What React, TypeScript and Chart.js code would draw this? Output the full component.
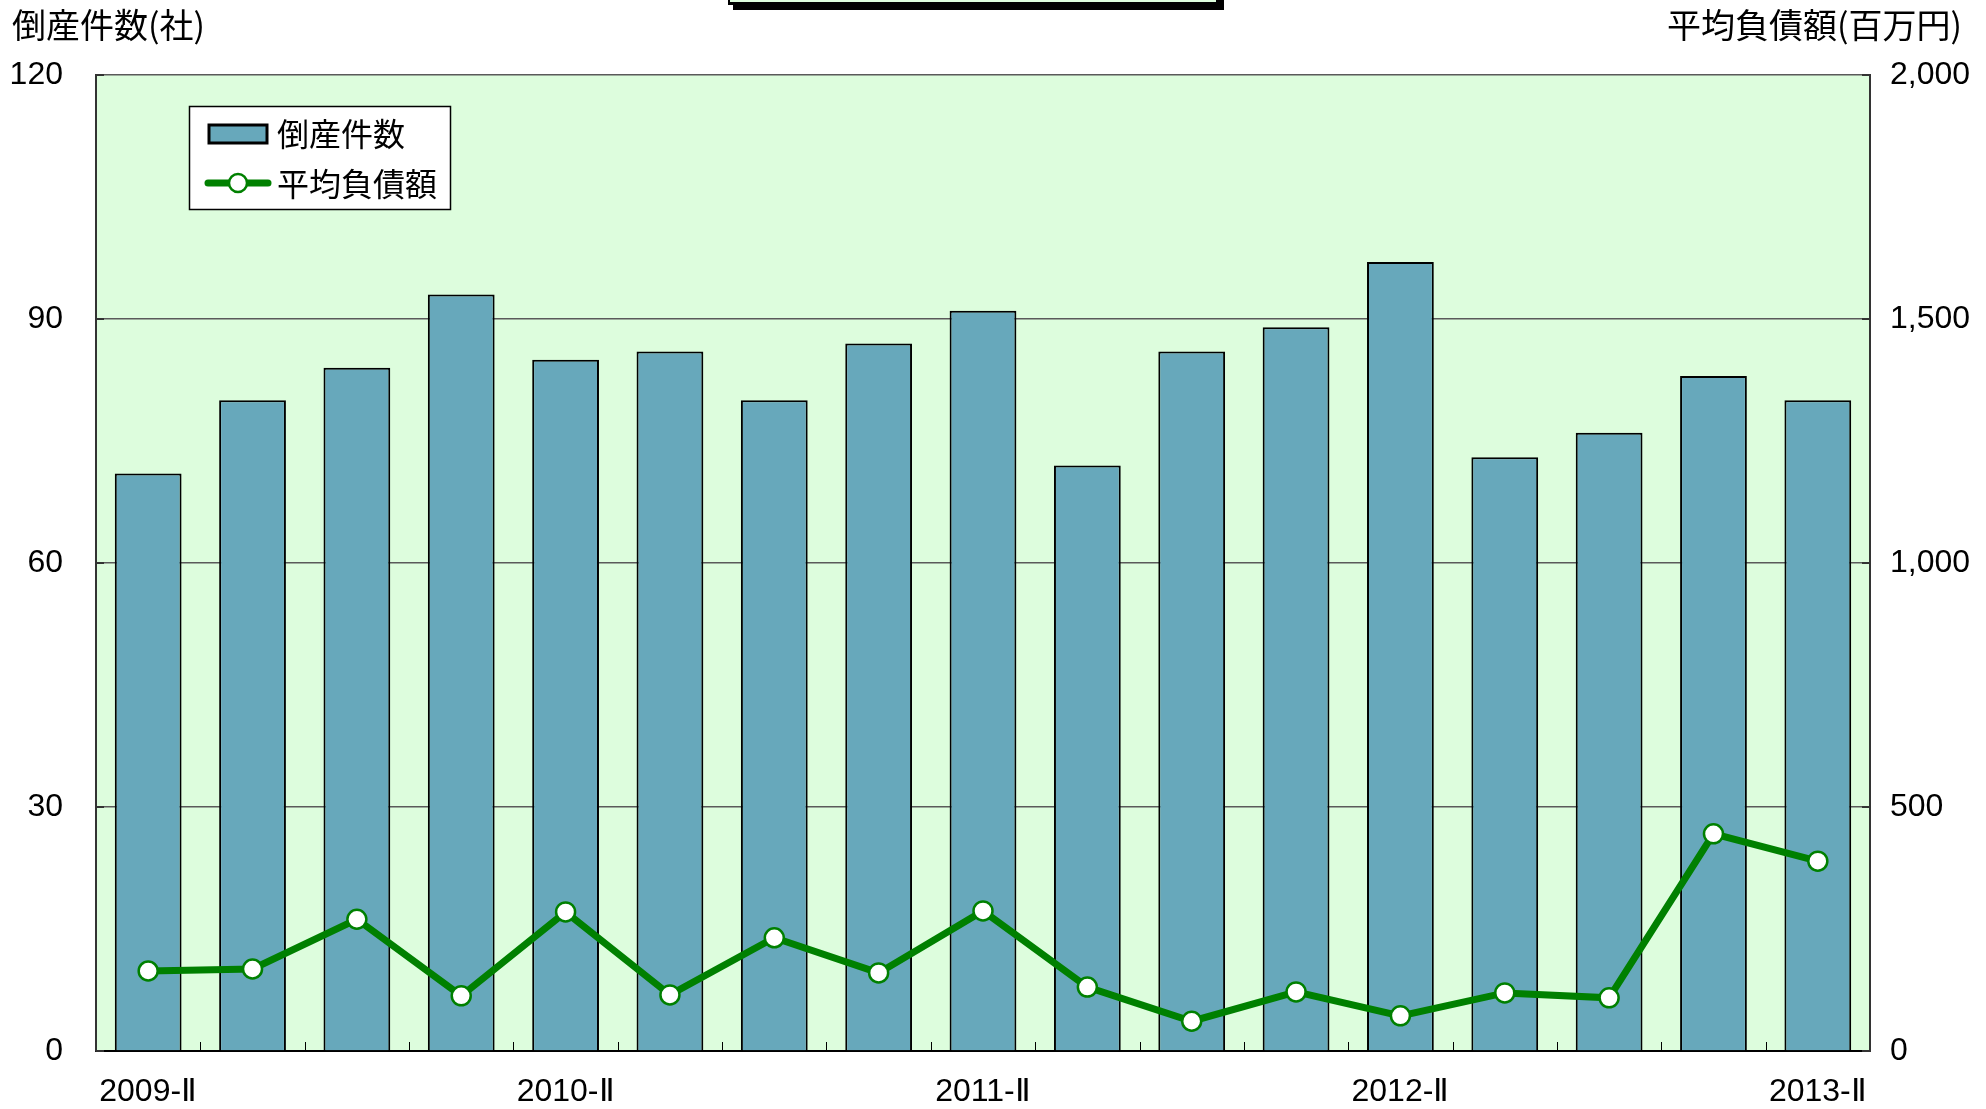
import React, { useEffect, useRef } from "react";
import { Chart, registerables } from "chart.js";

Chart.register(...registerables);

const categories = [
  "2009-Ⅱ", "2009-Ⅲ", "2009-Ⅳ", "2010-Ⅰ",
  "2010-Ⅱ", "2010-Ⅲ", "2010-Ⅳ", "2011-Ⅰ",
  "2011-Ⅱ", "2011-Ⅲ", "2011-Ⅳ", "2012-Ⅰ",
  "2012-Ⅱ", "2012-Ⅲ", "2012-Ⅳ", "2013-Ⅰ",
  "2013-Ⅱ",
];
const bankruptcies = [71, 80, 84, 93, 85, 86, 80, 87, 91, 72, 86, 89, 97, 73, 76, 83, 80];
const avgDebt = [164, 168, 270, 113, 285, 115, 232, 160, 287, 131, 61, 121, 72, 119, 109, 445, 389];
const leftTicks = [0, 30, 60, 90, 120];
const rightTicks = [0, 500, 1000, 1500, 2000];

const barLabel = "倒産件数";
const lineLabel = "平均負債額";
const leftTitle = "倒産件数(社)";
const rightTitle = "平均負債額(百万円)";

const W = 1986;
const H = 1109;
const BAR_COLOR = "#67A8BB";
const GREEN = "#008000";
const BG = "#DDFDDD";
const TICK_FONT = '"Liberation Sans Narrow", "Liberation Sans", Arial, sans-serif';
const JP_FONT = '"Noto Sans CJK JP", "Noto Sans", sans-serif';

const decorPlugin = {
  id: "decor",
  beforeDraw(chart: any) {
    const { ctx, chartArea } = chart;
    const { left, top, right, bottom } = chartArea;
    ctx.save();
    ctx.fillStyle = "#ffffff";
    ctx.fillRect(0, 0, W, H);
    ctx.fillStyle = BG;
    ctx.fillRect(left, top, right - left, bottom - top);
    ctx.restore();
  },
  afterDraw(chart: any) {
    const { ctx, chartArea } = chart;
    const { left, top, right, bottom } = chartArea;
    ctx.save();
    const n = categories.length;
    const cw = (right - left) / n;
    ctx.strokeStyle = "#000";
    ctx.lineWidth = 1;
    for (let i = 1; i < n; i++) {
      const x = Math.round(left + i * cw) + 0.5;
      ctx.beginPath();
      ctx.moveTo(x, bottom);
      ctx.lineTo(x, bottom - 9);
      ctx.stroke();
    }
    const yL = chart.scales.y;
    ctx.lineWidth = 2;
    ctx.strokeStyle = "#333";
    leftTicks.forEach((v) => {
      const y = yL.getPixelForValue(v);
      ctx.beginPath();
      ctx.moveTo(left, y);
      ctx.lineTo(left + 8, y);
      ctx.stroke();
      ctx.beginPath();
      ctx.moveTo(right, y);
      ctx.lineTo(right - 8, y);
      ctx.stroke();
    });

    ctx.fillStyle = "#000";
    ctx.font = `34px ${JP_FONT}`;
    ctx.textBaseline = "middle";
    ctx.textAlign = "left";
    ctx.fillText(leftTitle, 12, 25);
    ctx.textAlign = "right";
    ctx.fillText(rightTitle, 1962, 25);

    ctx.fillStyle = "#000";
    ctx.fillRect(733, 0, 491, 10);
    ctx.fillRect(728, 0, 490, 5);
    ctx.fillStyle = BG;
    ctx.fillRect(730, 0, 486, 2);

    ctx.fillStyle = "#fff";
    ctx.fillRect(189, 106, 262, 104);
    ctx.strokeStyle = "#000";
    ctx.lineWidth = 1.5;
    ctx.strokeRect(189.5, 106.5, 261, 103);

    ctx.fillStyle = BAR_COLOR;
    ctx.fillRect(209, 125, 58, 18);
    ctx.lineWidth = 3;
    ctx.strokeStyle = "#000";
    ctx.strokeRect(209, 125, 58, 18);

    ctx.strokeStyle = GREEN;
    ctx.lineWidth = 7;
    ctx.lineCap = "round";
    ctx.beginPath();
    ctx.moveTo(208, 183);
    ctx.lineTo(268, 183);
    ctx.stroke();
    ctx.beginPath();
    ctx.arc(238, 183, 9, 0, Math.PI * 2);
    ctx.fillStyle = "#fff";
    ctx.fill();
    ctx.lineWidth = 2.5;
    ctx.stroke();

    ctx.fillStyle = "#000";
    ctx.font = `32px ${JP_FONT}`;
    ctx.textAlign = "left";
    ctx.textBaseline = "middle";
    ctx.fillText(barLabel, 277, 134);
    ctx.fillText(lineLabel, 277, 184);
    ctx.restore();
  },
};

export default function App() {
  const ref = useRef<HTMLCanvasElement | null>(null);

  useEffect(() => {
    if (!ref.current) return;
    const chart = new Chart(ref.current, {
      type: "bar",
      data: {
        labels: categories,
        datasets: [
          {
            type: "line",
            label: lineLabel,
            data: avgDebt,
            yAxisID: "y2",
            borderColor: GREEN,
            borderWidth: 7,
            pointRadius: 9.5,
            pointBorderWidth: 2.5,
            pointBackgroundColor: "#fff",
            pointBorderColor: GREEN,
            tension: 0,
            order: 0,
          } as any,
          {
            type: "bar",
            label: barLabel,
            data: bankruptcies,
            yAxisID: "y",
            backgroundColor: BAR_COLOR,
            borderColor: "#000",
            borderWidth: 2,
            barPercentage: 0.64,
            categoryPercentage: 1,
            order: 1,
          } as any,
        ],
      },
      options: {
        responsive: false,
        animation: false,
        layout: { padding: { top: 75, left: 0, right: 0, bottom: 0 } },
        plugins: {
          legend: { display: false },
          tooltip: { enabled: false },
          title: { display: false },
        },
        scales: {
          x: {
            grid: { display: false, drawTicks: false },
            border: { display: true, color: "#000", width: 2 },
            ticks: {
              autoSkip: false,
              maxRotation: 0,
              padding: 22,
              color: "#000",
              font: { family: TICK_FONT, size: 32 },
              callback: (_v: any, i: number) => (i % 4 === 0 ? categories[i] : ""),
            },
            afterFit: (s: any) => {
              s.height = 58;
            },
          },
          y: {
            position: "left",
            min: 0,
            max: 120,
            afterBuildTicks: (s: any) => {
              s.ticks = leftTicks.map((v) => ({ value: v }));
            },
            grid: { color: "#5a5a5a", lineWidth: 1.5, drawTicks: false },
            border: { display: true, color: "#333", width: 2 },
            ticks: {
              padding: 33,
              color: "#000",
              font: { family: TICK_FONT, size: 32 },
            },
            afterFit: (s: any) => {
              s.width = 96;
            },
          },
          y2: {
            position: "right",
            min: 0,
            max: 2000,
            afterBuildTicks: (s: any) => {
              s.ticks = rightTicks.map((v) => ({ value: v }));
            },
            grid: { display: false, drawTicks: false },
            border: { display: true, color: "#333", width: 2 },
            ticks: {
              padding: 20,
              color: "#000",
              font: { family: TICK_FONT, size: 32 },
              callback: (v: any) => Number(v).toLocaleString("en-US"),
            },
            afterFit: (s: any) => {
              s.width = 116;
            },
          },
        },
      },
      plugins: [decorPlugin],
    });
    return () => chart.destroy();
  }, []);

  return (
    <div style={{ position: "fixed", left: 0, top: 0, width: W, height: H }}>
      <canvas ref={ref} width={W} height={H} style={{ width: W, height: H }} />
    </div>
  );
}
